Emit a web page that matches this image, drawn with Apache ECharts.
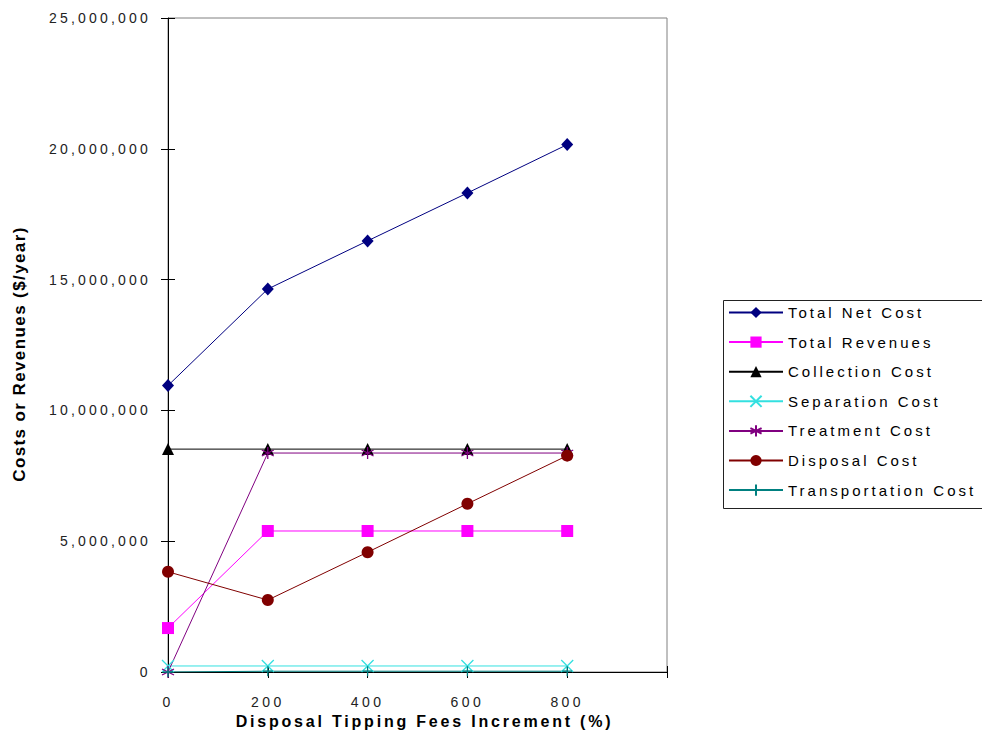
<!DOCTYPE html>
<html>
<head>
<meta charset="utf-8">
<script src="https://cdn.jsdelivr.net/npm/echarts@6/dist/echarts.min.js"></script>
<style>
html,body{margin:0;padding:0;background:#fff;}
#chart{width:982px;height:742px;}
</style>
</head>
<body>
<div id="chart"></div>
<script>
// ---- data ----
const xValues = [0, 200, 400, 600, 800];
const xTickLabels = ['0', '200', '400', '600', '800'];
const totalNetCost = [10950000, 14640000, 16480000, 18310000, 20160000];
const totalRevenues = [1680000, 5390000, 5390000, 5390000, 5390000];
const collectionCost = [8520000, 8520000, 8520000, 8520000, 8520000];
const separationCost = [230000, 230000, 230000, 230000, 230000];
const treatmentCost = [0, 8370000, 8370000, 8370000, 8370000];
const disposalCost = [3830000, 2750000, 4580000, 6430000, 8270000];
const transportationCost = [0, 30000, 30000, 30000, 30000];
const seriesNames = ['Total Net Cost', 'Total Revenues', 'Collection Cost', 'Separation Cost', 'Treatment Cost', 'Disposal Cost', 'Transportation Cost'];
const xAxisTitle = 'Disposal Tipping Fees Increment (%)';
const yAxisTitle = 'Costs or Revenues ($/year)';

const FONT = '"Liberation Sans", Arial, sans-serif';
const pairs = arr => xValues.map((x, i) => [x, arr[i]]);

const SYM_X = 'path://M0,0L10,10M10,0L0,10';
const SYM_AST = 'path://M5,0L5,10M0,2.5L10,7.5M0,7.5L10,2.5';
const SYM_PLUS = 'path://M5,0L5,10M0,5L10,5';

function lineSeries(name, data, color, symbol, size, stroked) {
  return {
    name: name,
    type: 'line',
    xAxisIndex: 0,
    yAxisIndex: 0,
    data: pairs(data),
    symbol: symbol,
    symbolSize: size,
    showAllSymbol: true,
    lineStyle: { color: color, width: 1 },
    itemStyle: stroked
      ? { color: 'rgba(0,0,0,0)', borderColor: color, borderWidth: 1.3 }
      : { color: color, borderWidth: 0 },
    emphasis: { disabled: true },
    animation: false
  };
}

const chart = echarts.init(document.getElementById('chart'), null, { renderer: 'svg' });

const option = {
  animation: false,
  backgroundColor: '#ffffff',
  grid: {
    left: 168, right: 315, top: 18, bottom: 70,
    show: true, borderColor: '#808080', borderWidth: 1, backgroundColor: 'transparent'
  },
  xAxis: [
    {
      type: 'value', min: 0, max: 1000, interval: 200, position: 'bottom',
      name: xAxisTitle, nameLocation: 'middle', nameGap: 32,
      nameTextStyle: { fontFamily: FONT, fontWeight: 'bold', fontSize: 16, color: '#000', padding: [0, 0, 0, 14] },
      axisLine: { show: true, onZero: false, lineStyle: { color: '#000', width: 1 } },
      axisTick: { show: true, inside: false, length: 6, lineStyle: { color: '#000' } },
      axisLabel: {
        show: true, margin: 23, fontFamily: FONT, fontSize: 14, color: '#222',
        formatter: v => { const i = xValues.indexOf(v); return i >= 0 ? xTickLabels[i] : ''; }
      },
      splitLine: { show: false }
    },
    {
      type: 'value', min: 0, max: 1000, interval: 200, position: 'bottom',
      axisLine: { show: false },
      axisTick: { show: true, inside: true, length: 6, lineStyle: { color: '#000' } },
      axisLabel: { show: false },
      splitLine: { show: false }
    }
  ],
  yAxis: [
    {
      type: 'value', min: 0, max: 25000000, interval: 5000000, position: 'left',
      name: yAxisTitle, nameLocation: 'middle', nameGap: 140, nameRotate: 90,
      nameTextStyle: { fontFamily: FONT, fontWeight: 'bold', fontSize: 17, color: '#000', padding: [0, 18, 0, 0] },
      axisLine: { show: true, onZero: false, lineStyle: { color: '#000', width: 1 } },
      axisTick: { show: true, inside: false, length: 7, lineStyle: { color: '#000' } },
      axisLabel: {
        show: true, margin: 17, fontFamily: FONT, fontSize: 14, color: '#222',
        formatter: v => v.toLocaleString('en-US')
      },
      splitLine: { show: false }
    },
    {
      type: 'value', min: 0, max: 25000000, interval: 5000000, position: 'left',
      axisLine: { show: false },
      axisTick: { show: true, inside: true, length: 7, lineStyle: { color: '#000' } },
      axisLabel: { show: false },
      splitLine: { show: false }
    }
  ],
  legend: {
    orient: 'vertical', left: 723, top: 300,
    itemWidth: 54, itemHeight: 14, itemGap: 14.6,
    textStyle: { fontFamily: FONT, fontSize: 15, color: '#000' },
    data: seriesNames,
    selectedMode: false
  },
  graphic: [
    {
      type: 'rect', left: 721, top: 298, silent: true,
      shape: { width: 260, height: 208 },
      style: { fill: 'none', stroke: '#222', lineWidth: 1 }
    }
  ],
  series: [
    lineSeries(seriesNames[0], totalNetCost, '#000080', 'diamond', [12, 13], false),
    lineSeries(seriesNames[1], totalRevenues, '#ff00ff', 'rect', 12, false),
    lineSeries(seriesNames[2], collectionCost, '#000000', 'triangle', 12, false),
    lineSeries(seriesNames[3], separationCost, '#33e0e0', SYM_X, 12, true),
    lineSeries(seriesNames[4], treatmentCost, '#800080', SYM_AST, 12, true),
    lineSeries(seriesNames[5], disposalCost, '#800000', 'circle', 12, false),
    lineSeries(seriesNames[6], transportationCost, '#008080', SYM_PLUS, 10, true)
  ]
};

chart.setOption(option);

function applySpacing() {
  const texts = chart.getDom().querySelectorAll('text');
  texts.forEach(t => {
    const s = t.textContent;
    let sp = 3;
    if (s === xAxisTitle) sp = 2.8;
    else if (s === yAxisTitle) sp = 1.4;
    else if (/^[0-9,]+$/.test(s)) sp = s.indexOf(',') >= 0 ? 3.2 : 3.4;
    else sp = 3;
    t.style.letterSpacing = sp + 'px';
  });
}
applySpacing();
chart.on('finished', applySpacing);
setTimeout(applySpacing, 50);
</script>
</body>
</html>
